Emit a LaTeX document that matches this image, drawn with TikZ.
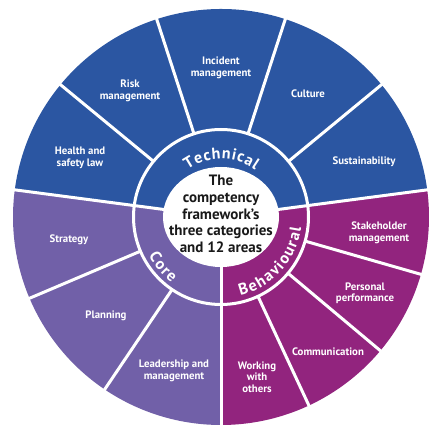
\documentclass[tikz,border=0pt]{standalone}
\usepackage{fontspec}
\setmainfont{PT Sans}
\usetikzlibrary{calc,decorations.text}
\definecolor{techblue}{HTML}{2B56A2}
\definecolor{corepurple}{HTML}{7160A8}
\definecolor{behavmag}{HTML}{92247E}
\newcommand\ringfont{\bfseries\fontsize{16}{16}\selectfont}
\tikzset{
  seclabel/.style={text=white, font=\bfseries\fontsize{10.8}{11.5}\selectfont, align=center, inner sep=0pt},
  divider/.style={white, line width=3pt},
  ringtext/.style={decorate, decoration={text along path, text align=center, text color=white, text={#1}}}
}
\begin{document}
\begin{tikzpicture}[x=1pt,y=1pt]
\useasboundingbox (0,0) rectangle (442,434);
\coordinate (O) at (221,217);
% category wedges
\fill[techblue] (O) -- ++(7.5:208) arc[start angle=7.5, end angle=172.5, radius=208] -- cycle;
\fill[corepurple] (O) -- ++(172.5:208) arc[start angle=172.5, end angle=270, radius=208] -- cycle;
\fill[behavmag] (O) -- ++(270:208) arc[start angle=270, end angle=367.5, radius=208] -- cycle;
% white gaps
\draw[divider] (O) circle[radius=87.5];
\foreach \a in {7.5,172.5,270} \draw[divider] (O) -- ++(\a:209);
\foreach \a in {39.5,72,108,140.5,203,236,295,320,344}
  \draw[divider] ($(O)+(\a:87.5)$) -- ($(O)+(\a:209)$);
% centre disc
\fill[white] (O) ellipse[x radius=58, y radius=50];
% ring texts
\path[ringtext={|\ringfont\kern0.8pt|Technical}] ($(O)+(160:58)$) arc[start angle=160, end angle=20, radius=58];
\path[ringtext={|\ringfont\kern1.5pt|Core}] ($(O)+(185:82)$) arc[start angle=185, end angle=255, radius=82];
\path[ringtext={|\ringfont\kern1.5pt|Behavioural}] ($(O)+(272:81)$) arc[start angle=272, end angle=363, radius=81];
% centre text
\node[font=\bfseries\fontsize{15}{16.7}\selectfont, align=center, text=black!90, inner sep=0pt] (title) at (221,220) {The\\competency\\framework’s\\three categories\\and 12 areas};
% sector labels
\node[seclabel] (hs) at (80,276) {Health and\\safety law};
\node[seclabel] (risk) at (130,343) {Risk\\management};
\node[seclabel] (inc) at (221,366) {Incident\\management};
\node[seclabel] (cult) at (308,340) {Culture};
\node[seclabel] (sust) at (364,272) {Sustainability};
\node[seclabel] (strat) at (69,194) {Strategy};
\node[seclabel] (plan) at (106,118) {Planning};
\node[seclabel] (lead) at (174,63) {Leadership and\\management};
\node[seclabel] (stake) at (379,201) {Stakeholder\\management};
\node[seclabel] (pers) at (365,141) {Personal\\performance};
\node[seclabel] (comm) at (328,82) {Communication};
\node[seclabel] (work) at (257,57) {Working\\with\\others};
\end{tikzpicture}
\end{document}
